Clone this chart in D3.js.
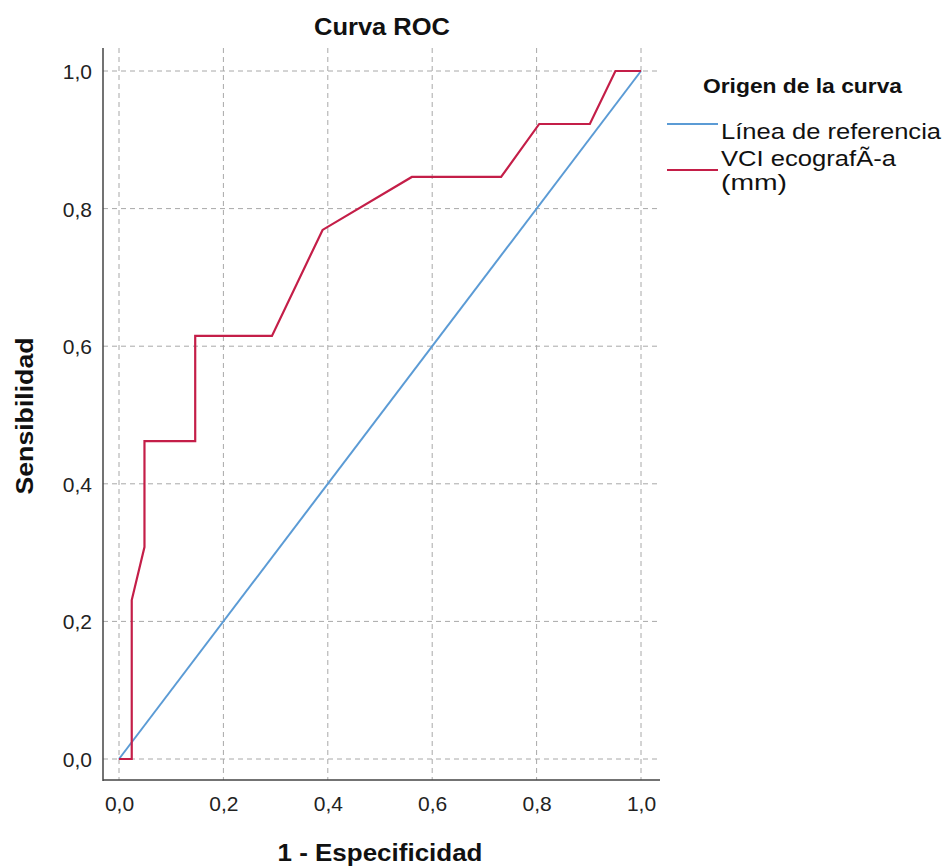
<!DOCTYPE html>
<html><head><meta charset="utf-8">
<script src="https://cdn.jsdelivr.net/npm/d3@7"></script>
<style>body{margin:0;background:#fff}svg{display:block}</style>
</head><body>
<svg id="c" width="944" height="868"></svg>
<script>
const title = "Curva ROC";
const xLabel = "1 - Especificidad";
const yLabel = "Sensibilidad";
const legendTitle = "Origen de la curva";
const seriesNames = ["Línea de referencia", "VCI ecografÃ-a", "(mm)"];
const tickValues = [0, 0.2, 0.4, 0.6, 0.8, 1.0];
const refX = [0, 1];
const refY = [0, 1];
const rocX = [0, 0.0244, 0.0244, 0.0488, 0.0488, 0.146, 0.146, 0.293, 0.390, 0.561, 0.732, 0.805, 0.902, 0.951, 1];
const rocY = [0, 0, 0.231, 0.308, 0.462, 0.462, 0.615, 0.615, 0.769, 0.846, 0.846, 0.923, 0.923, 1, 1];

const svg = d3.select("#c");
const font = "'Liberation Sans', Arial, sans-serif";
const x = d3.scaleLinear().domain([0, 1]).range([119, 641]);
const y = d3.scaleLinear().domain([0, 1]).range([759, 71]);
const frame = {left: 103, right: 660, top: 48, bottom: 780};

// grid
const g = svg.append("g");
g.selectAll(".vg").data(tickValues).join("line")
  .attr("x1", d => x(d)).attr("x2", d => x(d))
  .attr("y1", frame.top).attr("y2", frame.bottom)
  .attr("stroke", "#a8a8a8").attr("stroke-width", 1).attr("stroke-dasharray", "5,4");
g.selectAll(".hg").data(tickValues).join("line")
  .attr("y1", d => y(d)).attr("y2", d => y(d))
  .attr("x1", frame.left).attr("x2", frame.right)
  .attr("stroke", "#a8a8a8").attr("stroke-width", 1).attr("stroke-dasharray", "5,4");

// axes
const fmt = d => d3.format(".1f")(d).replace(".", ",");
const xAxis = svg.append("g").attr("transform", `translate(0,${frame.bottom})`)
  .call(d3.axisBottom(x).tickValues(tickValues).tickFormat(fmt).tickSize(0).tickPadding(14));
const yAxis = svg.append("g").attr("transform", `translate(${frame.left},0)`)
  .call(d3.axisLeft(y).tickValues(tickValues).tickFormat(fmt).tickSize(0).tickPadding(11));
[xAxis, yAxis].forEach(a => {
  a.select(".domain").remove();
  a.selectAll("text").attr("font-family", font).attr("font-size", 21).attr("fill", "#222");
});
xAxis.selectAll("text").attr("dy", null).attr("y", 31);
yAxis.selectAll("text").attr("dy", "0.36em");
svg.append("line").attr("x1", frame.left).attr("x2", frame.left).attr("y1", frame.top).attr("y2", frame.bottom+1)
  .attr("stroke", "#444").attr("stroke-width", 1.5);
svg.append("line").attr("x1", frame.left).attr("x2", frame.right).attr("y1", frame.bottom).attr("y2", frame.bottom)
  .attr("stroke", "#444").attr("stroke-width", 1.5);

// lines
const line = d3.line().x(d => x(d[0])).y(d => y(d[1]));
svg.append("path").datum(d3.zip(refX, refY)).attr("d", line)
  .attr("fill", "none").attr("stroke", "#5b9bd5").attr("stroke-width", 2);
svg.append("path").datum(d3.zip(rocX, rocY)).attr("d", line)
  .attr("fill", "none").attr("stroke", "#c41e48").attr("stroke-width", 2.2).attr("stroke-linejoin", "miter");

// titles
function txt(xp, yp, s, size, bold, len, anchor) {
  return svg.append("text").attr("x", xp).attr("y", yp).attr("text-anchor", anchor || "start")
    .attr("font-family", font).attr("font-weight", bold ? "bold" : "normal").attr("font-size", size)
    .attr("fill", "#111").attr("textLength", len).attr("lengthAdjust", "spacingAndGlyphs").text(s);
}
txt(382, 35, title, 23, true, 136, "middle");
txt(380, 861, xLabel, 23, true, 205, "middle");
txt(0, 0, yLabel, 23, true, 157, "middle").attr("transform", "translate(33,416) rotate(-90)");

// legend
txt(703, 93, legendTitle, 20, true, 199);
const colors = ["#5b9bd5", "#c41e48"];
const legY = [124, 170];
colors.forEach((c, i) => {
  svg.append("line").attr("x1", 667).attr("x2", 718).attr("y1", legY[i]).attr("y2", legY[i])
    .attr("stroke", c).attr("stroke-width", 2);
});
txt(721, 139, seriesNames[0], 22, false, 220);
txt(721, 166, seriesNames[1], 22, false, 175);
txt(721, 190, seriesNames[2], 22, false, 66);
</script>
</body></html>
